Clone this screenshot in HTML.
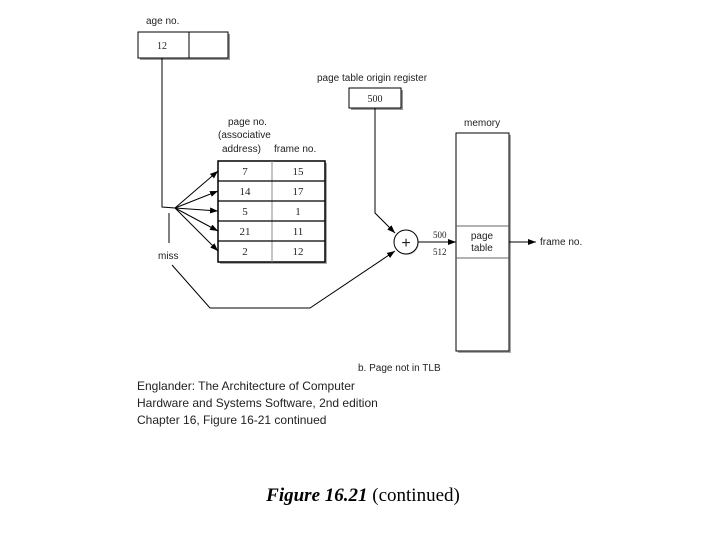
<!DOCTYPE html>
<html><head><style>
body{margin:0;background:#fff;}
svg text{font-family:"Liberation Sans",sans-serif;fill:#222;}
svg text.s, svg .s text{font-family:"Liberation Serif",serif;}
</style></head><body>
<svg width="720" height="540" xmlns="http://www.w3.org/2000/svg">
<defs><marker id="a" markerWidth="8" markerHeight="6" refX="8" refY="3" orient="auto" markerUnits="userSpaceOnUse"><path d="M0,0L8,3L0,6z" fill="#000"/></marker></defs>
<g stroke="#000" fill="none" stroke-width="1">
<text x="146" y="24" font-size="10" stroke="none">age no.</text>
<rect x="140" y="34" width="90" height="26" fill="#999" stroke="none"/>
<rect x="138" y="32" width="90" height="26" fill="#fff"/>
<line x1="189" y1="32" x2="189" y2="58"/>
<text x="157" y="49" font-size="10" class="s" stroke="none">12</text>
<polyline points="162,58 162,207 175,208"/>
<g marker-end="url(#a)">
<line x1="175" y1="208" x2="218" y2="171"/>
<line x1="175" y1="208" x2="218" y2="191"/>
<line x1="175" y1="208" x2="218" y2="211"/>
<line x1="175" y1="208" x2="218" y2="231"/>
<line x1="175" y1="208" x2="218" y2="251"/>
</g>
<text x="228" y="125" font-size="10" stroke="none">page no.</text>
<text x="218" y="138" font-size="10" stroke="none">(associative</text>
<text x="222" y="152" font-size="10" stroke="none">address)</text>
<text x="274" y="152" font-size="10" stroke="none">frame no.</text>
<rect x="220" y="163" width="107" height="101" fill="#aaa" stroke="none"/>
<rect x="218" y="161" width="107" height="101" fill="#fff" stroke-width="1.5"/>
<line x1="272" y1="161" x2="272" y2="262" stroke="#888"/>
<line x1="218" y1="181" x2="325" y2="181" stroke-width="1.3"/>
<line x1="218" y1="201" x2="325" y2="201" stroke-width="1.3"/>
<line x1="218" y1="221" x2="325" y2="221" stroke-width="1.3"/>
<line x1="218" y1="241" x2="325" y2="241" stroke-width="1.3"/>
<g font-size="11" class="s" stroke="none" text-anchor="middle">
<text x="245" y="175">7</text><text x="298" y="175">15</text>
<text x="245" y="195">14</text><text x="298" y="195">17</text>
<text x="245" y="215">5</text><text x="298" y="215">1</text>
<text x="245" y="235">21</text><text x="298" y="235">11</text>
<text x="245" y="255">2</text><text x="298" y="255">12</text>
</g>
<line x1="169" y1="213" x2="169" y2="243"/>
<text x="158" y="259" font-size="10" stroke="none">miss</text>
<polyline points="172,265 210,308 310,308 395,251" marker-end="url(#a)"/>
<text x="317" y="81" font-size="10" stroke="none">page table origin register</text>
<rect x="351" y="90" width="52" height="20" fill="#999" stroke="none"/>
<rect x="349" y="88" width="52" height="20" fill="#fff"/>
<text x="375" y="102" font-size="10" class="s" stroke="none" text-anchor="middle">500</text>
<polyline points="375,108 375,213 395,233" marker-end="url(#a)"/>
<circle cx="407" cy="243" r="12" fill="#ccc" stroke="none"/>
<circle cx="406" cy="242" r="12" fill="#fff"/>
<text x="406" y="248" font-size="16" stroke="none" text-anchor="middle">+</text>
<line x1="418" y1="242" x2="456" y2="242" marker-end="url(#a)"/>
<text x="433" y="238" font-size="9" class="s" stroke="none">500</text>
<text x="433" y="255" font-size="9" class="s" stroke="none">512</text>
<text x="464" y="126" font-size="10" stroke="none">memory</text>
<rect x="458" y="135" width="53" height="218" fill="#aaa" stroke="none"/>
<rect x="456" y="133" width="53" height="218" fill="#fff"/>
<line x1="456" y1="226" x2="509" y2="226" stroke="#666"/>
<line x1="456" y1="258" x2="509" y2="258" stroke="#666"/>
<text x="482" y="239" font-size="10" stroke="none" text-anchor="middle">page</text>
<text x="482" y="251" font-size="10" stroke="none" text-anchor="middle">table</text>
<line x1="509" y1="242" x2="536" y2="242" marker-end="url(#a)"/>
<text x="540" y="245" font-size="10" stroke="none">frame no.</text>
<text x="358" y="371" font-size="10" stroke="none">b. Page not in TLB</text>
<text x="137" y="390" font-size="12" stroke="none">Englander: The Architecture of Computer</text>
<text x="137" y="407" font-size="12" stroke="none">Hardware and Systems Software, 2nd edition</text>
<text x="137" y="424" font-size="12" stroke="none">Chapter 16, Figure 16-21 continued</text>
</g>
<text x="363" y="501" font-size="19" text-anchor="middle" class="s" style="fill:#000"><tspan font-style="italic" font-weight="bold">Figure 16.21</tspan>  (continued)</text>
</svg>
</body></html>
